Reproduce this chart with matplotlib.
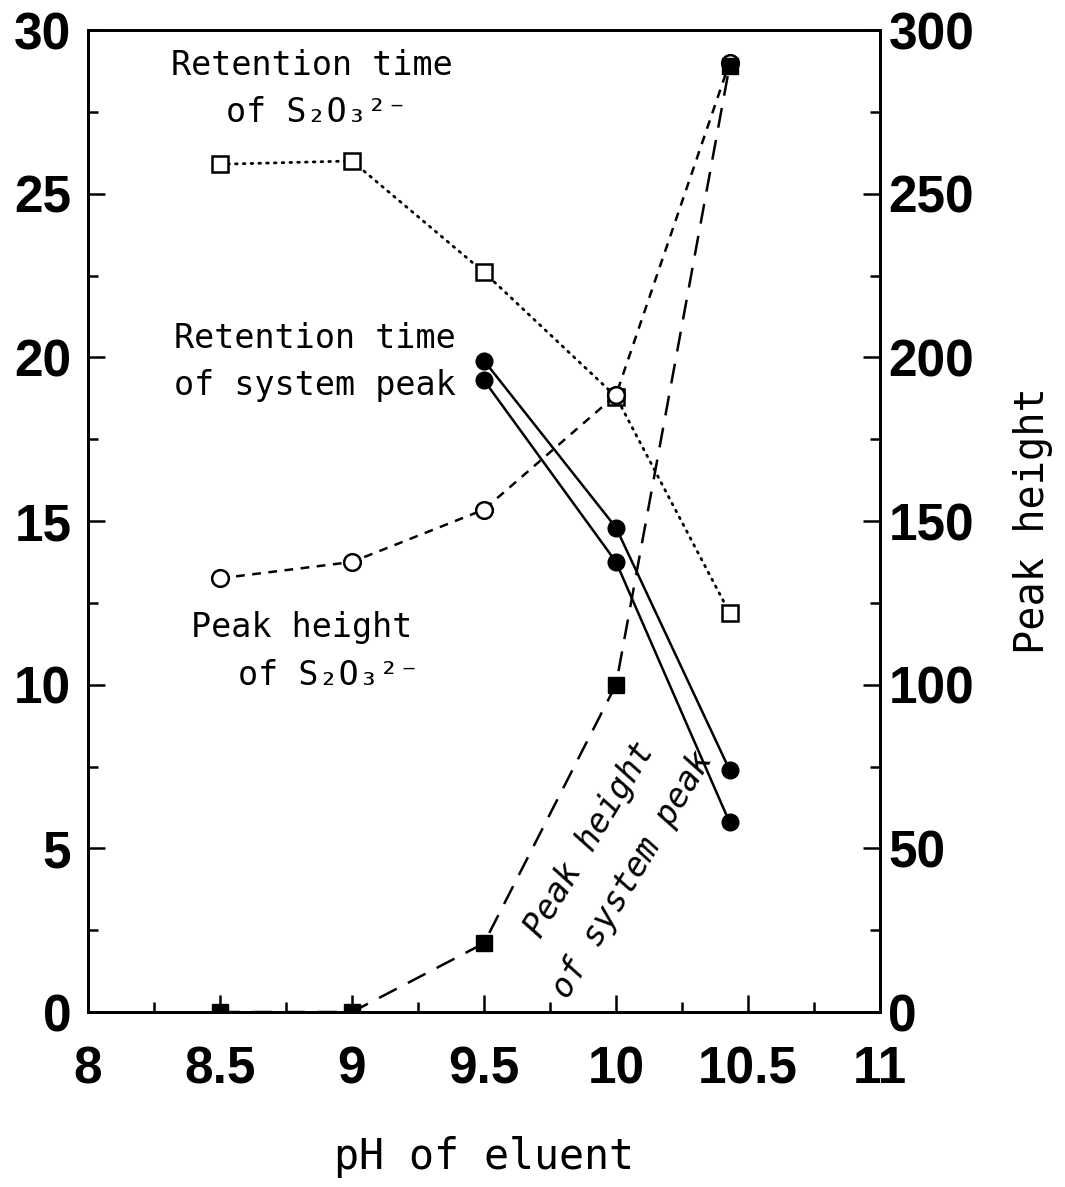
import numpy as np
import matplotlib
matplotlib.use("Agg")
import matplotlib.pyplot as plt
from matplotlib.ticker import MultipleLocator, FuncFormatter

# data
ph = [8.5, 9.0, 9.5, 10.0, 10.43]
ph_sys = [9.5, 10.0, 10.43]

rt_s2o3 = [25.9, 26.0, 22.6, 18.8, 12.2]          # left axis, min
ph_s2o3 = [132.5, 137.5, 153.5, 188.5, 290.0]     # right axis
rt_sys_a = [19.9, 14.8, 7.4]                      # left axis
rt_sys_b = [19.3, 13.75, 5.8]                     # left axis
ph_sys_all = [0.0, 0.0, 21.0, 100.0, 289.0]       # right axis

label_font = ["DejaVu Sans Mono", "DejaVu Sans"]
tick_font = "Liberation Sans"


def main():
    fig = plt.figure(figsize=(10.65, 11.87), dpi=100)
    ax = fig.add_axes([0.0826, 0.1474, 0.7437, 0.8273])
    ax2 = ax.twinx()

    ax.set_xlim(8, 11)
    ax.set_ylim(0, 30)
    ax2.set_ylim(0, 300)

    # series on the left axis
    ax.plot(ph, rt_s2o3, linestyle=(0, (0.6, 2.2)), color="black", lw=2.0,
            marker="s", ms=11, mfc="white", mec="black", mew=1.8,
            dash_capstyle="round", zorder=3)
    ax.plot(ph_sys, rt_sys_a, "-", color="black", lw=1.8,
            marker="o", ms=12, mfc="black", mec="black", zorder=4)
    ax.plot(ph_sys, rt_sys_b, "-", color="black", lw=1.8,
            marker="o", ms=12, mfc="black", mec="black", zorder=4)

    # series on the right axis
    ax2.plot(ph, ph_s2o3, linestyle=(0, (3.5, 3)), color="black", lw=1.8,
             marker="o", ms=12, mfc="white", mec="black", mew=1.8, zorder=3)
    ax2.plot(ph, ph_sys_all, linestyle=(0, (8, 5)), color="black", lw=1.8,
             marker="s", ms=12, mfc="black", mec="black", zorder=3)

    # axes styling
    for a in (ax, ax2):
        for sp in a.spines.values():
            sp.set_linewidth(2.0)
    ax.xaxis.set_major_locator(MultipleLocator(0.5))
    ax.xaxis.set_minor_locator(MultipleLocator(0.25))
    ax.xaxis.set_major_formatter(FuncFormatter(lambda v, p: f"{v:g}"))
    ax.yaxis.set_major_locator(MultipleLocator(5))
    ax.yaxis.set_minor_locator(MultipleLocator(2.5))
    ax2.yaxis.set_major_locator(MultipleLocator(50))
    ax2.yaxis.set_minor_locator(MultipleLocator(25))

    ax.tick_params(axis="both", which="major", direction="in", length=12,
                   width=1.8, labelsize=37)
    ax.tick_params(axis="both", which="minor", direction="in", length=7,
                   width=1.8)
    ax.tick_params(axis="y", which="both", right=False, pad=12)
    ax.tick_params(axis="x", which="both", top=False, pad=24)
    ax2.tick_params(axis="y", which="major", direction="in", length=12,
                    width=1.8, labelsize=37, pad=6)
    ax2.tick_params(axis="y", which="minor", direction="in", length=7,
                    width=1.8)

    for lab in ax.get_xticklabels() + ax.get_yticklabels() + ax2.get_yticklabels():
        lab.set_fontfamily(tick_font)
        lab.set_fontweight("bold")

    ax.set_xlabel("pH of eluent", family=label_font, fontsize=30)
    ax.xaxis.set_label_coords(0.5, -0.126)
    ax2.set_ylabel("Peak height", family=label_font, fontsize=29, labelpad=28)

    # in-plot labels (axes fractions)
    def txt(px, py, s, **kw):
        ax.text((px - 88) / 792, (1012 - py) / 982, s, transform=ax.transAxes,
                family=label_font, fontsize=24, color="black", **kw)

    txt(312, 65, "Retention time", ha="center", va="center")
    txt(226, 112, "of S\u2082O\u2083\u00b2\u207b", ha="left", va="center")
    txt(315, 338, "Retention time", ha="center", va="center")
    txt(315, 385, "of system peak", ha="center", va="center")
    txt(302, 627, "Peak height", ha="center", va="center")
    txt(238, 675, "of S\u2082O\u2083\u00b2\u207b", ha="left", va="center")
    txt(590, 840, "Peak height", ha="center", va="center", rotation=59,
        rotation_mode="anchor", style="italic")
    txt(632, 875, "of system peak", ha="center", va="center", rotation=59,
        rotation_mode="anchor", style="italic")

    fig.savefig("out.png", dpi=100)


if __name__ == "__main__":
    main()
